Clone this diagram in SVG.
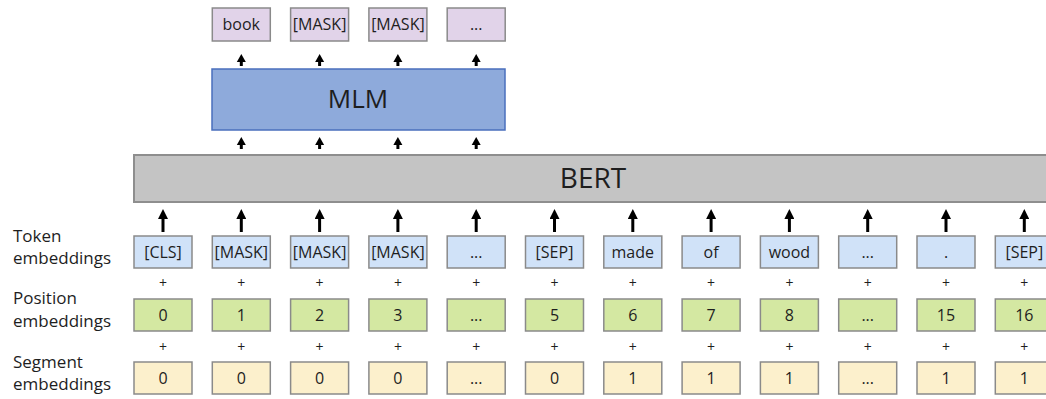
<svg xmlns="http://www.w3.org/2000/svg" width="1046" height="399" viewBox="0 0 1046 399">
  <style>
    text { font-family: "Open Sans", "Noto Sans", "Liberation Sans", sans-serif; fill: #1e1e1e; }
    .box { stroke: #8a8a8a; stroke-width: 1.5; }
    .tok { fill: #d0e2f8; }
    .pos { fill: #d4e8a2; }
    .seg { fill: #fcf0cc; }
    .out { fill: #e1d3e9; }
    .cell { font-size: 16px; text-anchor: middle; }
    .plus { font-size: 14px; text-anchor: middle; }
    .label { font-size: 17px; }
    .big { stroke-width: 3; stroke: #000; }
    .small { stroke-width: 3; stroke: #000; }
  </style>
  <defs>
    <marker id="headL" markerUnits="userSpaceOnUse" markerWidth="12" markerHeight="10" viewBox="0 0 12 10" refX="2" refY="5" orient="auto">
      <path d="M0,0 L10,5 L0,10 Z" fill="#000"/>
    </marker>
    <marker id="headS" markerUnits="userSpaceOnUse" markerWidth="10" markerHeight="10" viewBox="0 0 10 10" refX="2" refY="5" orient="auto">
      <path d="M0,0.5 L8,5 L0,9.5 Z" fill="#000"/>
    </marker>
  </defs>

  <!-- row labels -->
  <g id="labels">
    <text class="label" x="13" y="242">Token</text>
    <text class="label" x="13" y="264">embeddings</text>
    <text class="label" x="13" y="304">Position</text>
    <text class="label" x="13" y="327">embeddings</text>
    <text class="label" x="13" y="368">Segment</text>
    <text class="label" x="13" y="390">embeddings</text>
  </g>

  <!-- encoder -->
  <g id="bert">
    <rect x="134" y="155" width="920" height="47" fill="#c4c4c4" stroke="#8e8e8e" stroke-width="2"/>
    <text x="593" y="188" font-size="28" text-anchor="middle">BERT</text>
  </g>

  <!-- masked language model head -->
  <g id="mlm">
    <rect x="212" y="69" width="293" height="61" fill="#8eaadb" stroke="#4a6fbd" stroke-width="1.5"/>
    <text x="358" y="108" font-size="26" text-anchor="middle">MLM</text>
  </g>

  <!-- predicted outputs -->
  <g id="out1"><rect class="box out" x="212.3" y="8" width="58" height="33"/><text class="cell" x="241.3" y="30">book</text></g>
  <g id="out2"><rect class="box out" x="290.6" y="8" width="58" height="33"/><text class="cell" x="319.6" y="30">[MASK]</text></g>
  <g id="out3"><rect class="box out" x="368.9" y="8" width="58" height="33"/><text class="cell" x="397.9" y="30">[MASK]</text></g>
  <g id="out4"><rect class="box out" x="447.2" y="8" width="58" height="33"/><text class="cell" x="476.2" y="30">...</text></g>

  <!-- token embeddings -->
  <g id="tok0"><rect class="box tok" x="134" y="236" width="58" height="32"/><text class="cell" x="163" y="258">[CLS]</text></g>
  <g id="tok1"><rect class="box tok" x="212.3" y="236" width="58" height="32"/><text class="cell" x="241.3" y="258">[MASK]</text></g>
  <g id="tok2"><rect class="box tok" x="290.6" y="236" width="58" height="32"/><text class="cell" x="319.6" y="258">[MASK]</text></g>
  <g id="tok3"><rect class="box tok" x="368.9" y="236" width="58" height="32"/><text class="cell" x="397.9" y="258">[MASK]</text></g>
  <g id="tok4"><rect class="box tok" x="447.2" y="236" width="58" height="32"/><text class="cell" x="476.2" y="258">...</text></g>
  <g id="tok5"><rect class="box tok" x="525.5" y="236" width="58" height="32"/><text class="cell" x="554.5" y="258">[SEP]</text></g>
  <g id="tok6"><rect class="box tok" x="603.8" y="236" width="58" height="32"/><text class="cell" x="632.8" y="258">made</text></g>
  <g id="tok7"><rect class="box tok" x="682.1" y="236" width="58" height="32"/><text class="cell" x="711.1" y="258">of</text></g>
  <g id="tok8"><rect class="box tok" x="760.4" y="236" width="58" height="32"/><text class="cell" x="789.4" y="258">wood</text></g>
  <g id="tok9"><rect class="box tok" x="838.7" y="236" width="58" height="32"/><text class="cell" x="867.7" y="258">...</text></g>
  <g id="tok10"><rect class="box tok" x="917" y="236" width="58" height="32"/><text class="cell" x="946" y="258">.</text></g>
  <g id="tok11"><rect class="box tok" x="995.3" y="236" width="58" height="32"/><text class="cell" x="1024.3" y="258">[SEP]</text></g>

  <!-- position embeddings -->
  <g id="pos0"><rect class="box pos" x="134" y="299" width="58" height="32"/><text class="cell" x="163" y="321">0</text></g>
  <g id="pos1"><rect class="box pos" x="212.3" y="299" width="58" height="32"/><text class="cell" x="241.3" y="321">1</text></g>
  <g id="pos2"><rect class="box pos" x="290.6" y="299" width="58" height="32"/><text class="cell" x="319.6" y="321">2</text></g>
  <g id="pos3"><rect class="box pos" x="368.9" y="299" width="58" height="32"/><text class="cell" x="397.9" y="321">3</text></g>
  <g id="pos4"><rect class="box pos" x="447.2" y="299" width="58" height="32"/><text class="cell" x="476.2" y="321">...</text></g>
  <g id="pos5"><rect class="box pos" x="525.5" y="299" width="58" height="32"/><text class="cell" x="554.5" y="321">5</text></g>
  <g id="pos6"><rect class="box pos" x="603.8" y="299" width="58" height="32"/><text class="cell" x="632.8" y="321">6</text></g>
  <g id="pos7"><rect class="box pos" x="682.1" y="299" width="58" height="32"/><text class="cell" x="711.1" y="321">7</text></g>
  <g id="pos8"><rect class="box pos" x="760.4" y="299" width="58" height="32"/><text class="cell" x="789.4" y="321">8</text></g>
  <g id="pos9"><rect class="box pos" x="838.7" y="299" width="58" height="32"/><text class="cell" x="867.7" y="321">...</text></g>
  <g id="pos10"><rect class="box pos" x="917" y="299" width="58" height="32"/><text class="cell" x="946" y="321">15</text></g>
  <g id="pos11"><rect class="box pos" x="995.3" y="299" width="58" height="32"/><text class="cell" x="1024.3" y="321">16</text></g>

  <!-- segment embeddings -->
  <g id="seg0"><rect class="box seg" x="134" y="362" width="58" height="32"/><text class="cell" x="163" y="384">0</text></g>
  <g id="seg1"><rect class="box seg" x="212.3" y="362" width="58" height="32"/><text class="cell" x="241.3" y="384">0</text></g>
  <g id="seg2"><rect class="box seg" x="290.6" y="362" width="58" height="32"/><text class="cell" x="319.6" y="384">0</text></g>
  <g id="seg3"><rect class="box seg" x="368.9" y="362" width="58" height="32"/><text class="cell" x="397.9" y="384">0</text></g>
  <g id="seg4"><rect class="box seg" x="447.2" y="362" width="58" height="32"/><text class="cell" x="476.2" y="384">...</text></g>
  <g id="seg5"><rect class="box seg" x="525.5" y="362" width="58" height="32"/><text class="cell" x="554.5" y="384">0</text></g>
  <g id="seg6"><rect class="box seg" x="603.8" y="362" width="58" height="32"/><text class="cell" x="632.8" y="384">1</text></g>
  <g id="seg7"><rect class="box seg" x="682.1" y="362" width="58" height="32"/><text class="cell" x="711.1" y="384">1</text></g>
  <g id="seg8"><rect class="box seg" x="760.4" y="362" width="58" height="32"/><text class="cell" x="789.4" y="384">1</text></g>
  <g id="seg9"><rect class="box seg" x="838.7" y="362" width="58" height="32"/><text class="cell" x="867.7" y="384">...</text></g>
  <g id="seg10"><rect class="box seg" x="917" y="362" width="58" height="32"/><text class="cell" x="946" y="384">1</text></g>
  <g id="seg11"><rect class="box seg" x="995.3" y="362" width="58" height="32"/><text class="cell" x="1024.3" y="384">1</text></g>

  <!-- plus signs between embedding rows -->
  <g id="plus">
    <text class="plus" x="163" y="288">+</text><text class="plus" x="241.3" y="288">+</text><text class="plus" x="319.6" y="288">+</text><text class="plus" x="397.9" y="288">+</text>
    <text class="plus" x="476.2" y="288">+</text><text class="plus" x="554.5" y="288">+</text><text class="plus" x="632.8" y="288">+</text><text class="plus" x="711.1" y="288">+</text>
    <text class="plus" x="789.4" y="288">+</text><text class="plus" x="867.7" y="288">+</text><text class="plus" x="946" y="288">+</text><text class="plus" x="1024.3" y="288">+</text>
    <text class="plus" x="163" y="352">+</text><text class="plus" x="241.3" y="352">+</text><text class="plus" x="319.6" y="352">+</text><text class="plus" x="397.9" y="352">+</text>
    <text class="plus" x="476.2" y="352">+</text><text class="plus" x="554.5" y="352">+</text><text class="plus" x="632.8" y="352">+</text><text class="plus" x="711.1" y="352">+</text>
    <text class="plus" x="789.4" y="352">+</text><text class="plus" x="867.7" y="352">+</text><text class="plus" x="946" y="352">+</text><text class="plus" x="1024.3" y="352">+</text>
  </g>

  <!-- connectors -->
  <g id="connectors">
    <line class="big" x1="163" y1="232" x2="163" y2="217" marker-end="url(#headL)"/>
    <line class="big" x1="241.3" y1="232" x2="241.3" y2="217" marker-end="url(#headL)"/>
    <line class="big" x1="319.6" y1="232" x2="319.6" y2="217" marker-end="url(#headL)"/>
    <line class="big" x1="397.9" y1="232" x2="397.9" y2="217" marker-end="url(#headL)"/>
    <line class="big" x1="476.2" y1="232" x2="476.2" y2="217" marker-end="url(#headL)"/>
    <line class="big" x1="554.5" y1="232" x2="554.5" y2="217" marker-end="url(#headL)"/>
    <line class="big" x1="632.8" y1="232" x2="632.8" y2="217" marker-end="url(#headL)"/>
    <line class="big" x1="711.1" y1="232" x2="711.1" y2="217" marker-end="url(#headL)"/>
    <line class="big" x1="789.4" y1="232" x2="789.4" y2="217" marker-end="url(#headL)"/>
    <line class="big" x1="867.7" y1="232" x2="867.7" y2="217" marker-end="url(#headL)"/>
    <line class="big" x1="946" y1="232" x2="946" y2="217" marker-end="url(#headL)"/>
    <line class="big" x1="1024.3" y1="232" x2="1024.3" y2="217" marker-end="url(#headL)"/>

    <line class="small" x1="241.3" y1="149" x2="241.3" y2="143" marker-end="url(#headS)"/>
    <line class="small" x1="319.6" y1="149" x2="319.6" y2="143" marker-end="url(#headS)"/>
    <line class="small" x1="397.9" y1="149" x2="397.9" y2="143" marker-end="url(#headS)"/>
    <line class="small" x1="476.2" y1="149" x2="476.2" y2="143" marker-end="url(#headS)"/>

    <line class="small" x1="241.3" y1="66" x2="241.3" y2="60" marker-end="url(#headS)"/>
    <line class="small" x1="319.6" y1="66" x2="319.6" y2="60" marker-end="url(#headS)"/>
    <line class="small" x1="397.9" y1="66" x2="397.9" y2="60" marker-end="url(#headS)"/>
    <line class="small" x1="476.2" y1="66" x2="476.2" y2="60" marker-end="url(#headS)"/>
  </g>
</svg>
